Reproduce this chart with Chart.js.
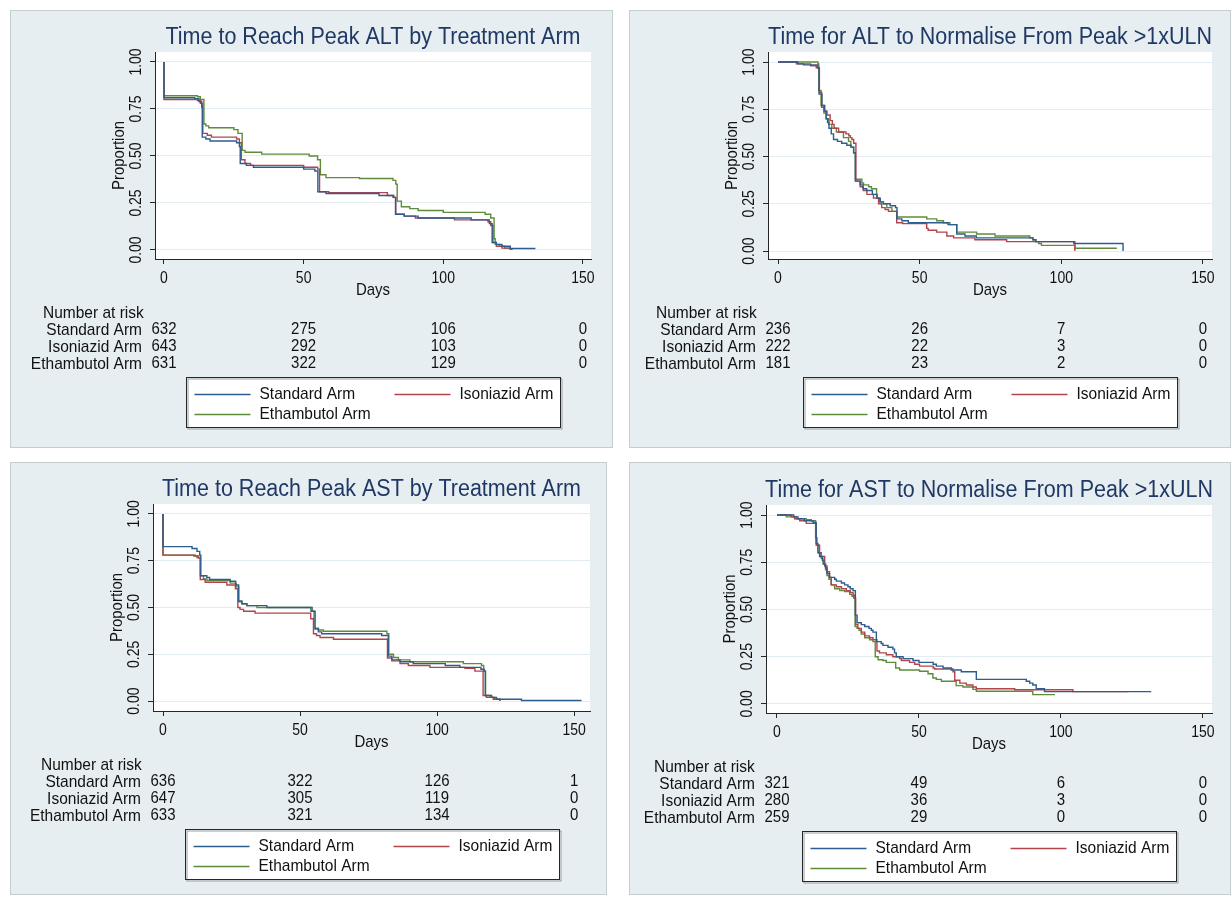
<!DOCTYPE html>
<html>
<head>
<meta charset="utf-8">
<script src="https://cdn.jsdelivr.net/npm/chart.js@4.4.1/dist/chart.umd.min.js"></script>
<style>
  html, body { margin: 0; padding: 0; background: #fff; }
  body { width: 1231px; height: 897px; position: relative; overflow: hidden; }
  .panel { position: absolute; background: #e7eef1; border: 1px solid #c6cdd1; box-sizing: border-box; }
  canvas.km { position: absolute; }
</style>
</head>
<body>
<script>
// ── Shared labels ────────────────────────────────────────────
const ARMS = ['Standard Arm', 'Isoniazid Arm', 'Ethambutol Arm'];
const TITLES = [
  'Time to Reach Peak ALT by Treatment Arm',
  'Time for ALT to Normalise From Peak >1xULN',
  'Time to Reach Peak AST by Treatment Arm',
  'Time for AST to Normalise From Peak >1xULN',
];
const xTicks = [0, 50, 100, 150];
const yTicks = [0, 0.25, 0.5, 0.75, 1];
const riskTimes = [0, 50, 100, 150];

// ── Kaplan-Meier steps: [day, proportion] ────────────────────
const altPeakStd = [[0,1],[0,0.81],[11,0.805],[12.5,0.79],[13.5,0.76],[13.7,0.60],[15,0.59],[16.5,0.58],[26,0.57],[27,0.55],[27.3,0.46],[29.5,0.45],[32,0.44],[50,0.43],[54,0.42],[55.1,0.31],[58,0.30],[77,0.29],[82,0.28],[82.9,0.19],[86,0.18],[91,0.17],[110,0.16],[116.5,0.14],[117.5,0.04],[119,0.03],[121,0.02],[124,0.008],[133,0.008]];
const altPeakInh = [[0,1],[0,0.80],[12,0.795],[13,0.78],[13.9,0.62],[15.5,0.61],[17,0.60],[26,0.59],[27,0.57],[27.7,0.48],[29,0.46],[31,0.45],[50,0.44],[55,0.43],[55.7,0.31],[59,0.305],[80,0.29],[82.3,0.28],[83,0.19],[86,0.18],[90,0.17],[104,0.16],[116,0.15],[117,0.13],[117.8,0.04],[119,0.02],[121,0.01],[124,0]];
const altPeakEmb = [[0,1],[0,0.82],[12,0.815],[13,0.80],[14.3,0.67],[15,0.66],[16,0.65],[25,0.64],[26.5,0.62],[28,0.53],[29,0.52],[35,0.51],[52,0.50],[55,0.48],[56,0.40],[58,0.385],[70,0.38],[82,0.37],[83,0.35],[83.5,0.26],[85,0.23],[88,0.22],[91,0.21],[100,0.20],[115,0.19],[117,0.17],[118.2,0.06],[118.6,0.03],[120,0.02],[122,0.01],[124,0.004],[124.6,0]];

const altNormStd = [[0,1],[7,0.99],[9,0.985],[14,0.97],[14.5,0.83],[15.5,0.77],[16.5,0.74],[17,0.70],[17.5,0.68],[18,0.65],[18.8,0.62],[19.6,0.59],[21,0.58],[22.5,0.57],[24.3,0.56],[25.8,0.55],[26.7,0.52],[27.3,0.37],[29,0.35],[30,0.33],[31.3,0.32],[33.3,0.30],[35,0.28],[36.1,0.26],[37.2,0.25],[39.6,0.24],[41.5,0.23],[42,0.17],[43.7,0.16],[46,0.15],[60,0.14],[63.1,0.09],[66,0.08],[70,0.07],[90,0.06],[91,0.05],[104.4,0.04],[121.8,0.04],[121.8,0]];
const altNormInh = [[0,1],[6.5,0.99],[11.5,0.98],[13.5,0.97],[14.6,0.84],[15.4,0.76],[16.2,0.74],[17.3,0.72],[18.4,0.69],[19.2,0.67],[19.8,0.65],[21.4,0.63],[24,0.62],[25,0.61],[25.5,0.60],[26.1,0.59],[26.7,0.57],[27.5,0.37],[29,0.34],[30.1,0.32],[31.4,0.30],[33.7,0.28],[35.5,0.25],[36.6,0.23],[37.8,0.22],[39,0.21],[41.9,0.15],[44,0.145],[52.5,0.12],[53,0.11],[56,0.10],[59.6,0.08],[62,0.07],[69.5,0.06],[80.7,0.05],[104.8,0.05],[104.8,0]];
const altNormEmb = [[0,1],[14.1,0.99],[14.4,0.85],[15.2,0.77],[16.2,0.73],[17,0.70],[17.9,0.67],[19,0.65],[20.6,0.63],[23.1,0.60],[24.9,0.58],[25.7,0.55],[26.7,0.52],[27.3,0.38],[29.6,0.36],[30.2,0.35],[32,0.34],[33,0.33],[34.8,0.28],[35.8,0.26],[37.2,0.25],[38.4,0.23],[40.2,0.21],[41.9,0.18],[52.5,0.17],[56,0.16],[58.4,0.15],[60.7,0.14],[63.1,0.10],[70.1,0.09],[76.6,0.08],[88.9,0.07],[90,0.06],[91,0.05],[92,0.04],[93,0.03],[104.8,0.015],[119.6,0.015]];

const astPeakStd = [[0,1],[0,0.825],[10.6,0.815],[12.4,0.80],[13.4,0.78],[13.8,0.67],[16,0.66],[17,0.65],[24.5,0.64],[26.5,0.62],[27.6,0.535],[28.8,0.52],[30.6,0.51],[37.9,0.50],[54,0.48],[55.5,0.385],[56.7,0.37],[57.9,0.36],[79.8,0.35],[82.2,0.24],[83.5,0.22],[86.5,0.21],[91.3,0.20],[103,0.19],[108.3,0.18],[116,0.17],[117.2,0.16],[117.6,0.03],[119.9,0.02],[121.7,0.01],[130.8,0.003],[152.7,0.003]];
const astPeakInh = [[0,1],[0,0.78],[11.8,0.775],[13,0.765],[13.6,0.65],[15.4,0.635],[23.3,0.62],[26.4,0.60],[27.3,0.50],[28.1,0.49],[29.4,0.48],[33.6,0.47],[53.9,0.44],[54.9,0.36],[56,0.35],[57.3,0.34],[62.2,0.33],[81.9,0.23],[83.5,0.215],[86.5,0.20],[89.5,0.19],[97.4,0.18],[110.2,0.175],[113.8,0.16],[116.8,0.03],[118,0.02],[120.5,0.01],[122.9,0]];
const astPeakEmb = [[0,1],[0,0.78],[11.2,0.775],[12.4,0.765],[13.6,0.67],[14.8,0.653],[16,0.644],[24.5,0.63],[26.7,0.61],[27.6,0.53],[28.8,0.52],[30.6,0.51],[34.3,0.50],[54.5,0.48],[55.1,0.39],[56.7,0.38],[58.5,0.373],[81.7,0.36],[82.4,0.25],[84.1,0.233],[85.9,0.22],[90.1,0.21],[109.6,0.20],[116.2,0.19],[117,0.16],[117.7,0.03],[119.3,0.02],[121,0.01],[122.9,0]];

const astNormStd = [[0,1],[5.9,0.99],[7.4,0.98],[9.7,0.97],[12.7,0.96],[13.8,0.85],[14.4,0.80],[15,0.78],[16,0.76],[16.5,0.74],[17.1,0.72],[17.6,0.69],[18.5,0.67],[20.3,0.66],[20.9,0.65],[22.7,0.64],[23.8,0.63],[25,0.62],[25.8,0.61],[26.8,0.60],[27.6,0.47],[28.2,0.43],[29.7,0.42],[30.9,0.41],[32.4,0.40],[33.2,0.39],[33.8,0.38],[35,0.33],[36.7,0.32],[37.3,0.31],[39.1,0.30],[40.8,0.29],[41.4,0.27],[42,0.25],[44.4,0.24],[47.9,0.23],[50,0.22],[55,0.21],[56.1,0.20],[58.5,0.19],[61.4,0.18],[64.9,0.17],[70.2,0.13],[87.8,0.12],[89,0.11],[90.1,0.10],[91.3,0.08],[94.2,0.065],[131.8,0.065]];
const astNormInh = [[0,1],[5,0.99],[6.2,0.98],[8,0.97],[10.3,0.956],[13.8,0.84],[15,0.80],[15.5,0.78],[16.8,0.73],[17.6,0.70],[18.5,0.67],[19.1,0.63],[20.9,0.62],[22.7,0.61],[24.4,0.60],[25.8,0.59],[26.8,0.575],[27.3,0.56],[27.7,0.42],[28.5,0.40],[29.7,0.38],[30.9,0.36],[32.6,0.35],[33.8,0.34],[35.2,0.28],[36.1,0.27],[38.5,0.26],[40.8,0.25],[43.2,0.24],[43.8,0.23],[46.7,0.22],[48.5,0.21],[50.2,0.20],[55,0.19],[55.5,0.185],[62,0.17],[62.6,0.125],[64.4,0.11],[66.7,0.10],[69,0.09],[70.2,0.08],[83.7,0.075],[104.2,0.065],[123.6,0.065]];
const astNormEmb = [[0,1],[3.3,0.99],[6.8,0.98],[10.3,0.975],[12.1,0.97],[13.6,0.88],[14.1,0.84],[14.8,0.80],[15.6,0.77],[16.2,0.74],[17.1,0.71],[17.6,0.68],[18.3,0.66],[19.1,0.63],[20.3,0.61],[22.1,0.60],[23.8,0.595],[25.6,0.58],[26.4,0.57],[27,0.56],[27.5,0.41],[28.2,0.40],[28.9,0.39],[29.7,0.37],[30.9,0.35],[32.6,0.34],[33.8,0.33],[34.6,0.25],[35.6,0.234],[37.3,0.23],[38.5,0.22],[41.8,0.19],[43.2,0.18],[50.2,0.173],[53.2,0.16],[54.9,0.137],[56.1,0.13],[57.9,0.12],[63.1,0.097],[65.5,0.09],[69,0.077],[70.2,0.067],[90.1,0.049],[97.9,0.049]];

// ── Number at risk (rows: Standard, Isoniazid, Ethambutol) ──
const riskAltPeak = [[632, 275, 106, 0], [643, 292, 103, 0], [631, 322, 129, 0]];
const riskAltNorm = [[236, 26, 7, 0], [222, 22, 3, 0], [181, 23, 2, 0]];
const riskAstPeak = [[636, 322, 126, 1], [647, 305, 119, 0], [633, 321, 134, 0]];
const riskAstNorm = [[321, 49, 6, 0], [280, 36, 3, 0], [259, 29, 0, 0]];

// ── Look ─────────────────────────────────────────────────────
const FONT = "'Liberation Sans', Arial, sans-serif";
const ARM_COLORS = ['#2c5d8f', '#b3434c', '#5f8c3a'];
const AXIS = '#262626';
const GRID = '#e3ecf0';
const TITLE_COLOR = '#1f3864';

// panel box [x, y, w, h] and plot area [left, top, right, bottom] in page pixels
const PANELS = [
  { title: TITLES[0], series: [altPeakStd, altPeakInh, altPeakEmb], risk: riskAltPeak,
    box: [10, 10, 603, 438], plot: [155, 52, 591, 259], xMin: -3.22, xMax: 152.9, yMin: -0.048 },
  { title: TITLES[1], series: [altNormStd, altNormInh, altNormEmb], risk: riskAltNorm,
    box: [629, 10, 602, 438], plot: [768, 52, 1212, 259], xMin: -3.53, xMax: 153.2, yMin: -0.042 },
  { title: TITLES[2], series: [astPeakStd, astPeakInh, astPeakEmb], risk: riskAstPeak,
    box: [10, 462, 597, 433], plot: [153, 504, 590, 711], xMin: -3.65, xMax: 155.8, yMin: -0.053 },
  { title: TITLES[3], series: [astNormStd, astNormInh, astNormEmb], risk: riskAstNorm,
    box: [629, 462, 602, 433], plot: [766, 505, 1212, 713], xMin: -3.87, xMax: 153.2, yMin: -0.048 },
];

function text(ctx, s, x, y, size, align, rot = 0, color = '#111', stretch = 1.08) {
  ctx.save();
  ctx.translate(x, y);
  if (rot) ctx.rotate(rot);
  ctx.scale(1, stretch);
  ctx.font = `${size}px ${FONT}`;
  ctx.fillStyle = color;
  ctx.textAlign = align;
  ctx.textBaseline = 'middle';
  ctx.fillText(s, 0, 0);
  ctx.restore();
}

// white plot region + Stata-like titles, rotated y labels, risk table and legend box
const kmDecor = {
  id: 'kmDecor',
  beforeDraw(chart) {
    const a = chart.chartArea, ctx = chart.ctx;
    ctx.save();
    ctx.fillStyle = '#fff';
    ctx.fillRect(a.left, a.top, a.right - a.left, a.bottom - a.top);
    ctx.restore();
  },
  afterDraw(chart, args, opts) {
    const ctx = chart.ctx, a = chart.chartArea;
    const xs = chart.scales.x, ys = chart.scales.y;
    const cx = (a.left + a.right) / 2;

    text(ctx, opts.title, cx, a.top - 15, 21.5, 'center', 0, TITLE_COLOR, 1.1);

    yTicks.forEach(v => text(ctx, v.toFixed(2), a.left - 18, ys.getPixelForValue(v), 14, 'center', -Math.PI / 2, '#111', 1.15));
    text(ctx, 'Proportion', a.left - 35, (a.top + a.bottom) / 2, 15, 'center', -Math.PI / 2);
    xTicks.forEach(v => text(ctx, String(v), xs.getPixelForValue(v), a.bottom + 20, 14, 'center', 0, '#111', 1.15));
    text(ctx, 'Days', cx, a.bottom + 32, 15, 'center');

    // number at risk
    const x0 = xs.getPixelForValue(riskTimes[0]);
    text(ctx, 'Number at risk', a.left - 112, a.bottom + 54.5, 15.5, 'left');
    opts.risk.forEach((row, i) => {
      const y = a.bottom + 71 + i * 17;
      text(ctx, ARMS[i], x0 - 22, y, 15.5, 'right');
      row.forEach((n, j) => text(ctx, String(n), xs.getPixelForValue(riskTimes[j]), y, 15, 'center'));
    });

    // legend
    const lw = 374, lh = 50;
    const lx = Math.round(cx - lw / 2) + 0.5, ly = Math.round(a.bottom + 118) + 0.5;
    ctx.save();
    ctx.fillStyle = '#fff';
    ctx.fillRect(lx, ly, lw, lh);
    ctx.strokeStyle = '#9aa0a3';
    ctx.lineWidth = 1;
    ctx.strokeRect(lx + 1.5, ly + 1.5, lw, lh);
    ctx.strokeStyle = AXIS;
    ctx.strokeRect(lx, ly, lw, lh);
    chart.data.datasets.forEach((ds, i) => {
      const col = i % 2, row = Math.floor(i / 2);
      const sx = lx + 8 + col * 200, sy = ly + 17 + row * 20;
      ctx.strokeStyle = ds.borderColor;
      ctx.lineWidth = 1.3;
      ctx.beginPath();
      ctx.moveTo(sx, sy);
      ctx.lineTo(sx + 56, sy);
      ctx.stroke();
      text(ctx, ds.label, sx + 65, sy, 15.5, 'left');
    });
    ctx.restore();
  }
};

PANELS.forEach(p => {
  const [bx, by, bw, bh] = p.box;
  const [pl, pt, pr, pb] = p.plot;

  const div = document.createElement('div');
  div.className = 'panel';
  Object.assign(div.style, { left: bx + 'px', top: by + 'px', width: bw + 'px', height: bh + 'px' });
  document.body.appendChild(div);

  const canvas = document.createElement('canvas');
  canvas.className = 'km';
  canvas.width = bw;
  canvas.height = bh;
  Object.assign(canvas.style, { left: bx + 'px', top: by + 'px', width: bw + 'px', height: bh + 'px' });
  document.body.appendChild(canvas);

  const TICK = 5;
  new Chart(canvas, {
    type: 'line',
    data: {
      datasets: p.series.map((pts, i) => ({
        label: ARMS[i],
        data: pts.map(([t, s]) => ({ x: t, y: s })),
        borderColor: ARM_COLORS[i],
        borderWidth: 1.4,
        pointRadius: 0,
        stepped: 'before',   // hold the previous value, then drop at the event time
        fill: false,
      }))
    },
    options: {
      responsive: false, animation: false,
      layout: {
        autoPadding: false,
        padding: { left: pl - bx - TICK, top: pt - by, right: bx + bw - pr, bottom: by + bh - pb - TICK }
      },
      plugins: {
        legend: { display: false },
        tooltip: { enabled: false },
        kmDecor: { title: p.title, risk: p.risk }
      },
      scales: {
        x: {
          type: 'linear', min: p.xMin, max: p.xMax,
          afterBuildTicks: s => { s.ticks = xTicks.map(v => ({ value: v })); },
          afterFit: s => { s.height = TICK; },
          ticks: { display: false },
          grid: { drawOnChartArea: false, tickLength: TICK, tickColor: AXIS },
          border: { color: AXIS, width: 1 }
        },
        y: {
          type: 'linear', min: p.yMin, max: 1.053,
          afterBuildTicks: s => { s.ticks = yTicks.map(v => ({ value: v })); },
          afterFit: s => { s.width = TICK; },
          ticks: { display: false },
          grid: { color: GRID, lineWidth: 1, tickLength: TICK, tickColor: AXIS },
          border: { color: AXIS, width: 1 }
        }
      }
    },
    plugins: [kmDecor]
  });
});
</script>
</body>
</html>
